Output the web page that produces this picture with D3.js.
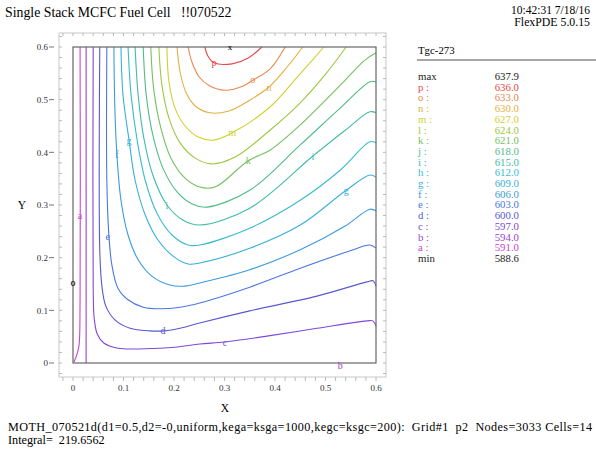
<!DOCTYPE html>
<html lang="en">
<head>
<meta charset="UTF-8">
<title>Single Stack MCFC Fuel Cell</title>
<script src="https://cdn.jsdelivr.net/npm/d3@7"></script>
<style>
body { margin: 0; background: #fff; overflow: hidden; }
svg { display: block; font-family: 'Liberation Serif', 'Times New Roman', serif; }
</style>
</head>
<body>
<svg id="chart" width="596" height="450"></svg>
<script>
// contour levels (Tgc-273)
const levelNames  = ['a','b','c','d','e','f','g','h','i','j','k','l','m','n','o','p'];
const levelValues = [591,594,597,600,603,606,609,612,615,618,621,624,627,630,633,636];
const levelColors = ['#cc44cc','#9944cc','#8048d8','#5a58d0','#4a78e0','#3a9be0','#38b0dc','#38bccc',
                     '#40bca8','#50bc88','#74c060','#9cc840','#d0d030','#e0b040','#e88850','#e84848'];
const fieldMax = 637.9, fieldMin = 588.6;

// contour lines, [x, y]
const contourA = [[0.014,0.6],[0.014,0.12],[0.012,0.034],[0.008,0.017],[0.002,0.002]];
const contourB = [[0.026,0.6],[0.026,0]];
const contourC = [[0.040,0.6],[0.040,0.139],[0.042,0.085],[0.048,0.055],[0.061,0.038],[0.089,0.028],[0.143,0.027],[0.202,0.030],[0.251,0.036],[0.301,0.040],[0.384,0.051],[0.483,0.066],[0.582,0.080],[0.594,0.080],[0.600,0.070]];
const contourD = [[0.053,0.6],[0.053,0.215],[0.057,0.148],[0.065,0.108],[0.083,0.082],[0.113,0.066],[0.152,0.061],[0.182,0.061],[0.212,0.066],[0.251,0.076],[0.350,0.099],[0.483,0.127],[0.582,0.154],[0.594,0.156],[0.600,0.146]];
const contourE = [[0.067,0.6],[0.067,0.347],[0.071,0.243],[0.077,0.186],[0.089,0.142],[0.109,0.120],[0.139,0.106],[0.172,0.103],[0.212,0.106],[0.251,0.114],[0.350,0.144],[0.450,0.180],[0.549,0.213],[0.588,0.224],[0.600,0.218]];
const contourF = [[0.081,0.6],[0.083,0.480],[0.087,0.395],[0.095,0.309],[0.109,0.243],[0.129,0.196],[0.156,0.165],[0.192,0.148],[0.222,0.146],[0.251,0.152],[0.350,0.177],[0.450,0.215],[0.539,0.260],[0.588,0.292],[0.600,0.289]];
const contourG = [[0.095,0.6],[0.099,0.509],[0.111,0.423],[0.123,0.347],[0.143,0.281],[0.168,0.234],[0.198,0.203],[0.228,0.188],[0.251,0.190],[0.350,0.218],[0.450,0.262],[0.541,0.328],[0.588,0.357],[0.600,0.353]];
const contourH = [[0.109,0.6],[0.115,0.509],[0.127,0.423],[0.143,0.347],[0.166,0.285],[0.196,0.243],[0.228,0.224],[0.251,0.224],[0.350,0.256],[0.450,0.309],[0.529,0.366],[0.588,0.420],[0.600,0.418]];
const contourI = [[0.123,0.6],[0.129,0.509],[0.141,0.423],[0.158,0.357],[0.186,0.300],[0.218,0.271],[0.251,0.262],[0.350,0.294],[0.475,0.393],[0.539,0.442],[0.588,0.477],[0.600,0.475]];
const contourJ = [[0.139,0.6],[0.145,0.509],[0.158,0.433],[0.178,0.370],[0.206,0.325],[0.236,0.302],[0.265,0.296],[0.350,0.328],[0.450,0.414],[0.529,0.484],[0.588,0.534],[0.600,0.534]];
const contourK = [[0.154,0.6],[0.160,0.518],[0.174,0.446],[0.194,0.389],[0.222,0.351],[0.251,0.334],[0.281,0.334],[0.347,0.384],[0.390,0.404],[0.450,0.452],[0.529,0.527],[0.578,0.575],[0.600,0.589]];
const contourL = [[0.170,0.6],[0.176,0.528],[0.190,0.465],[0.212,0.418],[0.242,0.389],[0.275,0.378],[0.321,0.391],[0.390,0.442],[0.450,0.494],[0.499,0.547],[0.541,0.6]];
const contourM = [[0.186,0.6],[0.190,0.534],[0.202,0.484],[0.222,0.450],[0.248,0.429],[0.277,0.423],[0.315,0.437],[0.390,0.486],[0.444,0.543],[0.497,0.6]];
const contourN = [[0.206,0.6],[0.212,0.553],[0.224,0.513],[0.242,0.488],[0.271,0.475],[0.307,0.478],[0.350,0.499],[0.388,0.524],[0.424,0.562],[0.455,0.6]];
const contourO = [[0.228,0.6],[0.236,0.570],[0.250,0.543],[0.271,0.526],[0.301,0.518],[0.337,0.526],[0.356,0.537],[0.390,0.558],[0.420,0.6]];
const contourP = [[0.261,0.6],[0.267,0.583],[0.279,0.570],[0.315,0.568],[0.347,0.579],[0.374,0.6]];

// letters printed on the lines: [level, x, y]
const lineLabels = [['a',0.014,0.281],['b',0.529,-0.004],['c',0.301,0.038],['d',0.178,0.061],
                    ['e',0.069,0.241],['f',0.087,0.395],['g',0.111,0.423],['g',0.541,0.328],
                    ['i',0.186,0.300],['i',0.475,0.393],['k',0.347,0.384],['m',0.315,0.437],
                    ['n',0.388,0.524],['o',0.356,0.539],['p',0.279,0.570]];
const maxPoint = [0.311, 0.6];
const minPoint = [0, 0.152];

const xTicks = [0, 0.1, 0.2, 0.3, 0.4, 0.5, 0.6];
const yTicks = [0, 0.1, 0.2, 0.3, 0.4, 0.5, 0.6];

const contours = [contourA,contourB,contourC,contourD,contourE,contourF,contourG,contourH,
                  contourI,contourJ,contourK,contourL,contourM,contourN,contourO,contourP];

const svg = d3.select('#chart');
const x = d3.scaleLinear().domain([0, 0.6]).range([73, 376]);
const y = d3.scaleLinear().domain([0, 0.6]).range([363, 47]);

// header texts
svg.append('text').attr('x', 5).attr('y', 17).attr('font-size', 13.8)
    .attr('xml:space', 'preserve').text('Single Stack MCFC Fuel Cell   !!070522');
svg.append('text').attr('x', 590).attr('y', 14).attr('font-size', 11.5).attr('text-anchor', 'end')
    .text('10:42:31 7/18/16');
svg.append('text').attr('x', 590).attr('y', 26).attr('font-size', 11.8).attr('text-anchor', 'end')
    .text('FlexPDE 5.0.15');

// outer light frame with small ticks
const outer = { l: 59, r: 386, t: 33, b: 377 };
svg.append('rect').attr('x', outer.l).attr('y', outer.t)
    .attr('width', outer.r - outer.l).attr('height', outer.b - outer.t)
    .attr('fill', 'none').attr('stroke', '#c8c8c8').attr('stroke-width', 1);

const minor = d3.range(-0.02, 0.641, 0.02).filter(v => x(v) > outer.l && x(v) < outer.r);
const minorY = d3.range(-0.02, 0.641, 0.02).filter(v => y(v) < outer.b && y(v) > outer.t);
const tickG = svg.append('g').attr('stroke', '#b8b8b8').attr('stroke-width', 1);
tickG.selectAll('.tt').data(minor).join('line')
    .attr('x1', d => x(d)).attr('x2', d => x(d)).attr('y1', outer.t).attr('y2', outer.t + 3);
tickG.selectAll('.tb').data(minor).join('line')
    .attr('x1', d => x(d)).attr('x2', d => x(d)).attr('y1', outer.b).attr('y2', outer.b + 4);
tickG.selectAll('.tl').data(minorY).join('line')
    .attr('y1', d => y(d)).attr('y2', d => y(d)).attr('x1', outer.l).attr('x2', outer.l + 3);
tickG.selectAll('.tr').data(minorY).join('line')
    .attr('y1', d => y(d)).attr('y2', d => y(d)).attr('x1', outer.r).attr('x2', outer.r - 3);

// tick labels
svg.append('g').selectAll('text').data(xTicks).join('text')
    .attr('x', d => x(d)).attr('y', 391).attr('text-anchor', 'middle')
    .attr('font-size', 9).attr('fill', '#333').text(d => d === 0 ? '0' : d3.format('.1f')(d));
svg.append('g').selectAll('text').data(yTicks).join('text')
    .attr('x', 48).attr('y', d => y(d) + 3.2).attr('text-anchor', 'end')
    .attr('font-size', 9).attr('fill', '#333').text(d => d === 0 ? '0' : d3.format('.1f')(d));
svg.append('g').attr('stroke', '#777').selectAll('line').data(yTicks).join('line')
    .attr('x1', 49).attr('x2', 54).attr('y1', d => y(d)).attr('y2', d => y(d));

// axis titles
svg.append('text').attr('x', 225).attr('y', 412).attr('font-size', 11.5).attr('text-anchor', 'middle').text('X');
svg.append('text').attr('x', 22).attr('y', 209).attr('font-size', 11.5).attr('text-anchor', 'middle').text('Y');

// contour lines
const line = d3.line().x(d => x(d[0])).y(d => y(d[1])).curve(d3.curveCatmullRom.alpha(0.5));
svg.append('g').attr('fill', 'none').attr('stroke-width', 1.1)
    .selectAll('path').data(contours).join('path')
    .attr('stroke', (d, i) => levelColors[i])
    .attr('d', line);

// inner domain box
svg.append('rect').attr('x', x(0)).attr('y', y(0.6))
    .attr('width', x(0.6) - x(0)).attr('height', y(0) - y(0.6))
    .attr('fill', 'none').attr('stroke', '#666').attr('stroke-width', 1.2);

// letters on the lines
svg.append('g').selectAll('text').data(lineLabels).join('text')
    .attr('x', d => x(d[1])).attr('y', d => y(d[2]) + 3.5)
    .attr('text-anchor', 'middle').attr('font-size', 10)
    .attr('fill', d => levelColors[levelNames.indexOf(d[0])])
    .text(d => d[0]);

// max / min markers
svg.append('text').attr('x', x(maxPoint[0])).attr('y', y(maxPoint[1]) + 3)
    .attr('text-anchor', 'middle').attr('font-size', 9).text('x');
svg.append('text').attr('x', x(minPoint[0])).attr('y', y(minPoint[1]) + 3)
    .attr('text-anchor', 'middle').attr('font-size', 10).text('o');

// legend
const lg = svg.append('g').attr('font-size', 10.8);
lg.append('text').attr('x', 418).attr('y', 54).text('Tgc-273');
lg.append('line').attr('x1', 417).attr('x2', 596).attr('y1', 60).attr('y2', 60)
    .attr('stroke', '#888').attr('stroke-width', 1.5);
const rows = [{ name: 'max', val: fieldMax, color: '#222' }]
    .concat(levelNames.map((n, i) => ({ name: n + ' :', val: levelValues[i], color: levelColors[i] })).reverse())
    .concat([{ name: 'min', val: fieldMin, color: '#222' }]);
const rowY = d3.scaleLinear().domain([0, rows.length - 1]).range([80, 262]);
lg.selectAll('.ln').data(rows).join('text')
    .attr('x', 418).attr('y', (d, i) => rowY(i)).attr('fill', d => d.color).text(d => d.name);
lg.selectAll('.lv').data(rows).join('text')
    .attr('x', 519).attr('y', (d, i) => rowY(i)).attr('text-anchor', 'end')
    .attr('fill', d => d.color).text(d => d3.format('.1f')(d.val));

// footer
svg.append('text').attr('x', 8).attr('y', 431).attr('font-size', 12.2).attr('xml:space', 'preserve')
    .attr('textLength', 584).attr('lengthAdjust', 'spacing')
    .text('MOTH_070521d(d1=0.5,d2=-0,uniform,kega=ksga=1000,kegc=ksgc=200):  Grid#1  p2  Nodes=3033 Cells=14');
svg.append('text').attr('x', 8).attr('y', 444).attr('font-size', 12.2).attr('xml:space', 'preserve')
    .text('Integral=  219.6562');
</script>
</body>
</html>
